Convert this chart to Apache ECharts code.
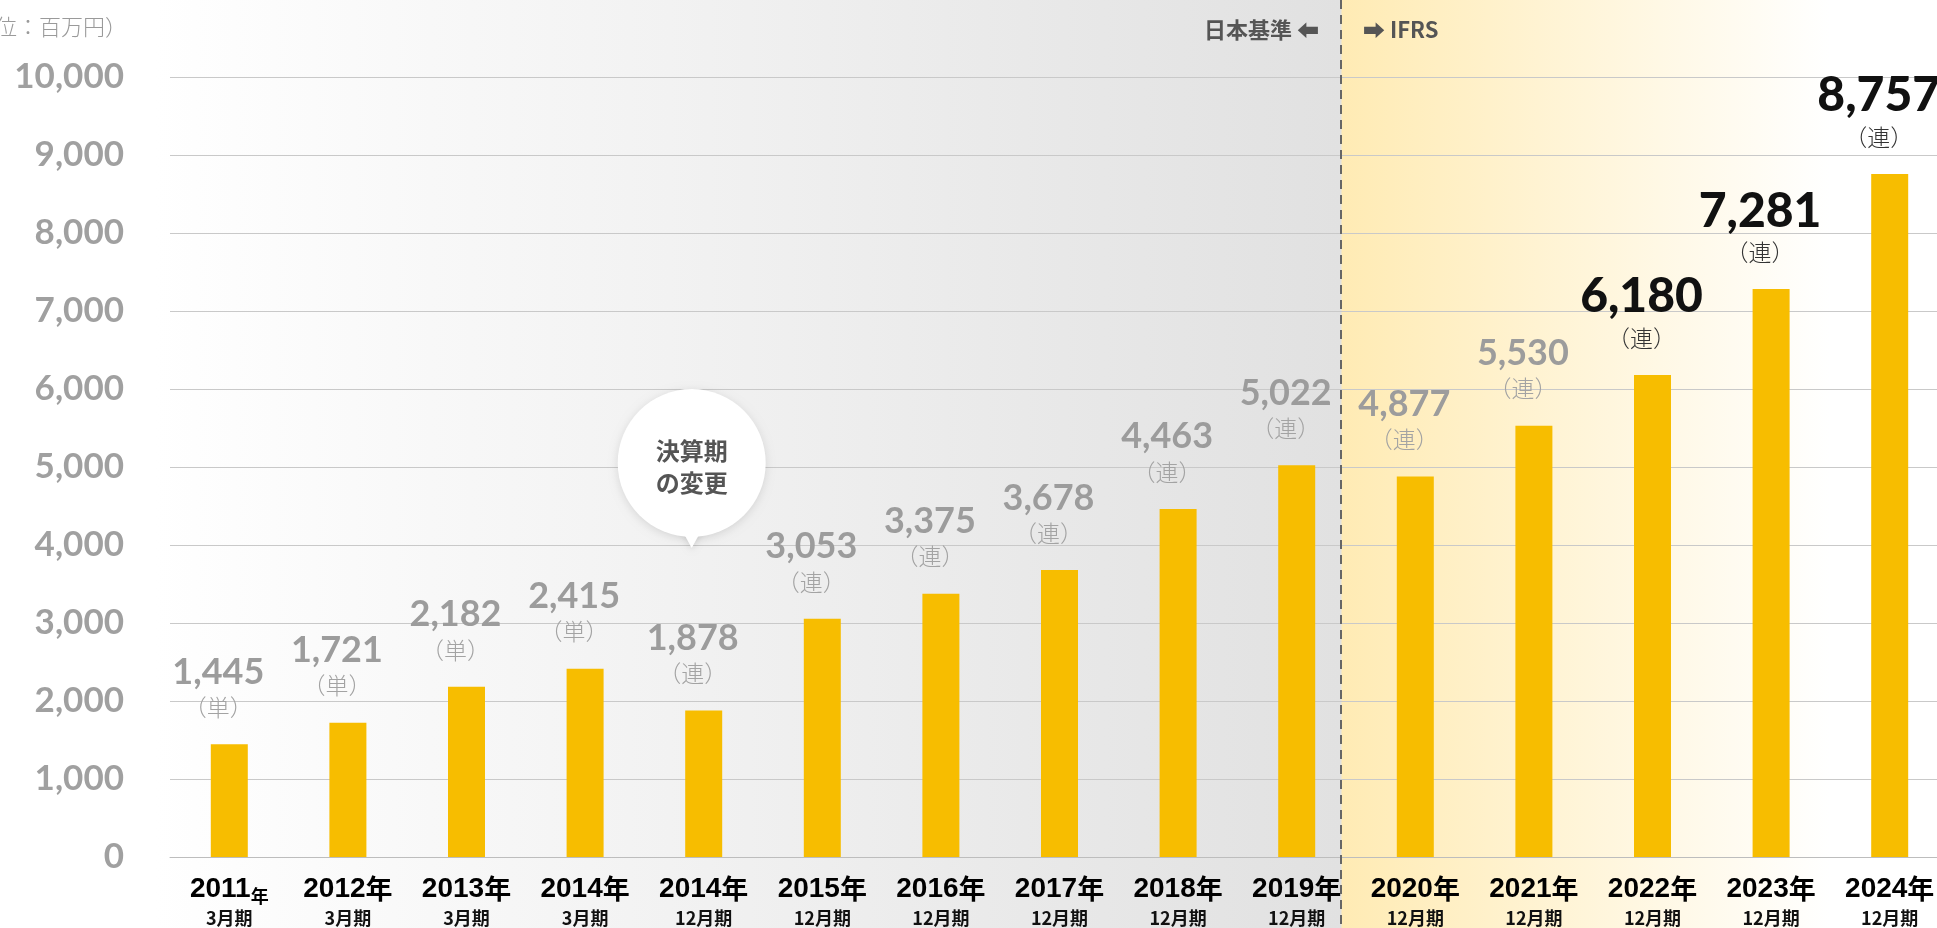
<!DOCTYPE html>
<html lang="ja">
<head>
<meta charset="UTF-8">
<title>売上収益の推移</title>
<script src="https://cdn.jsdelivr.net/npm/echarts@6/dist/echarts.min.js"></script>
<style>
    html, body { margin: 0; padding: 0; background: #fff; }
    #chart { width: 1937px; height: 928px; }
</style>
</head>
<body>
<div id="chart"></div>
<script>
// 決算年と決算期
var years = ['2011', '2012', '2013', '2014', '2014', '2015', '2016', '2017', '2018', '2019',
             '2020', '2021', '2022', '2023', '2024'];
var periods = ['3月期', '3月期', '3月期', '3月期', '12月期', '12月期', '12月期', '12月期', '12月期', '12月期',
               '12月期', '12月期', '12月期', '12月期', '12月期'];
// 売上（百万円）
var values = [1445, 1721, 2182, 2415, 1878, 3053, 3375, 3678, 4463, 5022,
              4877, 5530, 6180, 7281, 8757];
// 単体 / 連結
var basis = ['単', '単', '単', '単', '連', '連', '連', '連', '連', '連',
             '連', '連', '連', '連', '連'];
var yTicks = [0, 1000, 2000, 3000, 4000, 5000, 6000, 7000, 8000, 9000, 10000];

var BIG_FROM = 12;      // ここから数字を大きく黒で表示
var IFRS_FROM = 10;     // IFRS 適用開始
var NOTE_AT = 4;        // 決算期の変更

var NUM_FONT = 'Lato, "Noto Sans", sans-serif';
var JP_FONT = '"Noto Sans CJK JP", sans-serif';
var AX_FONT = '"Liberation Sans", "Noto Sans CJK JP", sans-serif';

function fmt(n) { return Number(n).toLocaleString('en-US'); }

var chart = echarts.init(document.getElementById('chart'));

var option = {
    animation: false,
    grid: { left: 170, top: 77, width: 1779, height: 780, containLabel: false, outerBoundsMode: 'none' },
    xAxis: {
        type: 'category',
        data: years.map(function (y, i) { return y + '年' + periods[i]; }),
        axisLine: { lineStyle: { color: '#bdbdbd', width: 1 } },
        axisTick: { show: false },
        axisLabel: {
            interval: 0,
            margin: 16,
            formatter: function (v, i) {
                var nen = i === 0 ? '{ns|年}' : '{n|年}';  // 2011年だけ「年」が小さい
                return '{y|' + years[i] + '}' + nen + '\n{p|' + periods[i] + '}';
            },
            rich: {
                y: { fontFamily: AX_FONT, fontSize: 28, fontWeight: 'bold', color: '#000', lineHeight: 32 },
                n: { fontFamily: JP_FONT, fontSize: 27, fontWeight: 'bold', color: '#000', lineHeight: 32 },
                ns: { fontFamily: JP_FONT, fontSize: 18, fontWeight: 'bold', color: '#000', lineHeight: 32, verticalAlign: 'bottom' },
                p: { fontFamily: JP_FONT, fontSize: 18, fontWeight: 'bold', color: '#111', lineHeight: 26 }
            }
        }
    },
    yAxis: {
        type: 'value',
        min: yTicks[0],
        max: yTicks[yTicks.length - 1],
        interval: yTicks[1] - yTicks[0],
        axisLine: { show: false },
        axisTick: { show: false },
        splitLine: { lineStyle: { color: '#c9c9c9', width: 1 } },
        axisLabel: {
            margin: 46,
            fontFamily: NUM_FONT,
            fontSize: 35,
            fontWeight: 'bold',
            color: '#a0a0a0',
            formatter: fmt
        }
    },
    series: [{
        type: 'bar',
        data: values,
        barWidth: 37,
        itemStyle: { color: '#f7bd00' },
        label: {
            show: true,
            position: 'top',
            distance: 22,
            offset: [-11, 0],
            align: 'center',
            formatter: function (p) {
                var i = p.dataIndex;
                var big = i >= BIG_FROM;
                return (big ? '{vb|' : '{v|') + fmt(p.value) + '}\n' +
                       (big ? '{ub|' : '{u|') + '（' + basis[i] + '）}';
            },
            rich: {
                v: { fontFamily: NUM_FONT, fontSize: 36, fontWeight: 'bold', color: '#9c9c9c', lineHeight: 40, align: 'center' },
                u: { fontFamily: JP_FONT, fontSize: 23, fontWeight: 300, color: '#a3a3a3', lineHeight: 30, align: 'center' },
                vb: { fontFamily: NUM_FONT, fontSize: 48, fontWeight: 900, color: '#111', lineHeight: 52, align: 'center' },
                ub: { fontFamily: JP_FONT, fontSize: 23, fontWeight: 300, color: '#333', lineHeight: 30, align: 'center' }
            }
        }
    }]
};

chart.setOption(option);

// 背景・区切り線・注記
var W = chart.getWidth(), H = chart.getHeight();
var pA = chart.convertToPixel({ xAxisIndex: 0 }, IFRS_FROM - 1);
var pB = chart.convertToPixel({ xAxisIndex: 0 }, IFRS_FROM);
var divX = Math.round((pA + pB) / 2 - 15);
var r = divX / W;
var noteX = chart.convertToPixel({ xAxisIndex: 0 }, NOTE_AT) - 12;
var noteY = 463;

chart.setOption({
    graphic: [
        {
            type: 'rect', silent: true, z: -100,
            shape: { x: 0, y: 0, width: W, height: H },
            style: {
                fill: new echarts.graphic.LinearGradient(0, 0, 1, 0, [
                    { offset: 0, color: '#ffffff' },
                    { offset: 0.08, color: '#ffffff' },
                    { offset: r, color: '#e1e1e1' },
                    { offset: r + 0.0005, color: '#ffebb4' },
                    { offset: 0.945, color: '#ffffff' },
                    { offset: 1, color: '#ffffff' }
                ])
            }
        },
        {
            type: 'line', silent: true, z: 100,
            shape: { x1: divX, y1: 0, x2: divX, y2: H },
            style: { stroke: '#666', lineWidth: 2, lineDash: [9, 6] }
        },
        {
            type: 'text', silent: true, z: 100,
            style: {
                x: divX - 22, y: 30, text: '日本基準 ⬅', align: 'right', verticalAlign: 'middle',
                font: 'bold 22px "Noto Sans CJK JP", "DejaVu Sans", sans-serif', fill: '#555'
            }
        },
        {
            type: 'text', silent: true, z: 100,
            style: {
                x: divX + 22, y: 30, text: '➡ IFRS', align: 'left', verticalAlign: 'middle',
                font: 'bold 22px "Noto Sans CJK JP", "DejaVu Sans", sans-serif', fill: '#555'
            }
        },
        {
            type: 'text', silent: true, z: 100,
            style: {
                x: 127, y: 27, text: '（単位：百万円）', align: 'right', verticalAlign: 'middle',
                font: '300 22px "Noto Sans CJK JP", sans-serif', fill: '#9a9a9a'
            }
        },
        {
            type: 'group', silent: true, z: 100,
            x: noteX, y: noteY,
            children: [
                {
                    type: 'polygon',
                    shape: { points: [[-14, 60], [14, 60], [0, 85]] },
                    style: { fill: '#fff', shadowBlur: 6, shadowColor: 'rgba(0,0,0,0.12)', shadowOffsetY: 2 }
                },
                {
                    type: 'circle',
                    shape: { cx: 0, cy: 0, r: 74 },
                    style: { fill: '#fff', shadowBlur: 8, shadowColor: 'rgba(0,0,0,0.12)', shadowOffsetY: 2 }
                },
                {
                    type: 'polygon',
                    shape: { points: [[-14, 60], [14, 60], [0, 84]] },
                    style: { fill: '#fff' }
                },
                {
                    type: 'text',
                    style: {
                        x: 0, y: 4, text: '決算期\nの変更', align: 'center', verticalAlign: 'middle',
                        font: 'bold 24px "Noto Sans CJK JP", sans-serif', fill: '#555', lineHeight: 32
                    }
                }
            ]
        }
    ]
});
</script>
</body>
</html>
